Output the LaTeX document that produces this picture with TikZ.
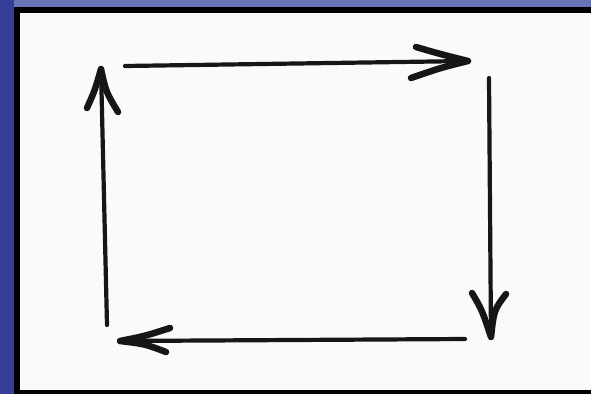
\documentclass[tikz,border=0pt]{standalone}
\definecolor{bgblue}{RGB}{78,92,172}
\definecolor{bgdark}{RGB}{52,62,150}
\definecolor{ink}{RGB}{22,22,22}
\definecolor{paper}{RGB}{250,250,250}
\tikzset{
  shaft/.style={draw=ink, line width=4.2pt, line cap=round},
  barb/.style={draw=ink, line width=6.5pt, line cap=round, line join=round},
}
\begin{document}
\begin{tikzpicture}[x=1pt,y=-1pt]
\useasboundingbox (0,0) rectangle (591,394);
\fill[bgdark] (0,0) rectangle (591,394);
\fill[bgblue!85!white] (14,0) rectangle (591,7);
\fill[black] (14,7) rectangle (591,394);
\fill[paper] (20,13) rectangle (591,390);
% corner coordinates
\coordinate (tS) at (125,66); \coordinate (tE) at (468,61);
\coordinate (rS) at (489,78); \coordinate (rE) at (491,337);
\coordinate (bS) at (465,339); \coordinate (bE) at (120,341);
\coordinate (lS) at (107,325); \coordinate (lE) at (101,69);
% top arrow
\draw[shaft] (tS) -- (tE);
\draw[barb] (416,47) .. controls (440,54) .. (tE) .. controls (440,68) .. (411,78);
% right arrow
\draw[shaft] (rS) -- (rE);
\draw[barb] (472,293) .. controls (482,310) .. (rE) .. controls (494,310) .. (506,294);
% bottom arrow
\draw[shaft] (bS) -- (bE);
\draw[barb] (170,328) .. controls (145,336) .. (bE) .. controls (145,344) .. (166,352);
% left arrow
\draw[shaft] (lS) -- (lE);
\draw[barb] (87,108) .. controls (95,90) .. (lE) .. controls (106,92) .. (118,112);
\end{tikzpicture}
\end{document}
